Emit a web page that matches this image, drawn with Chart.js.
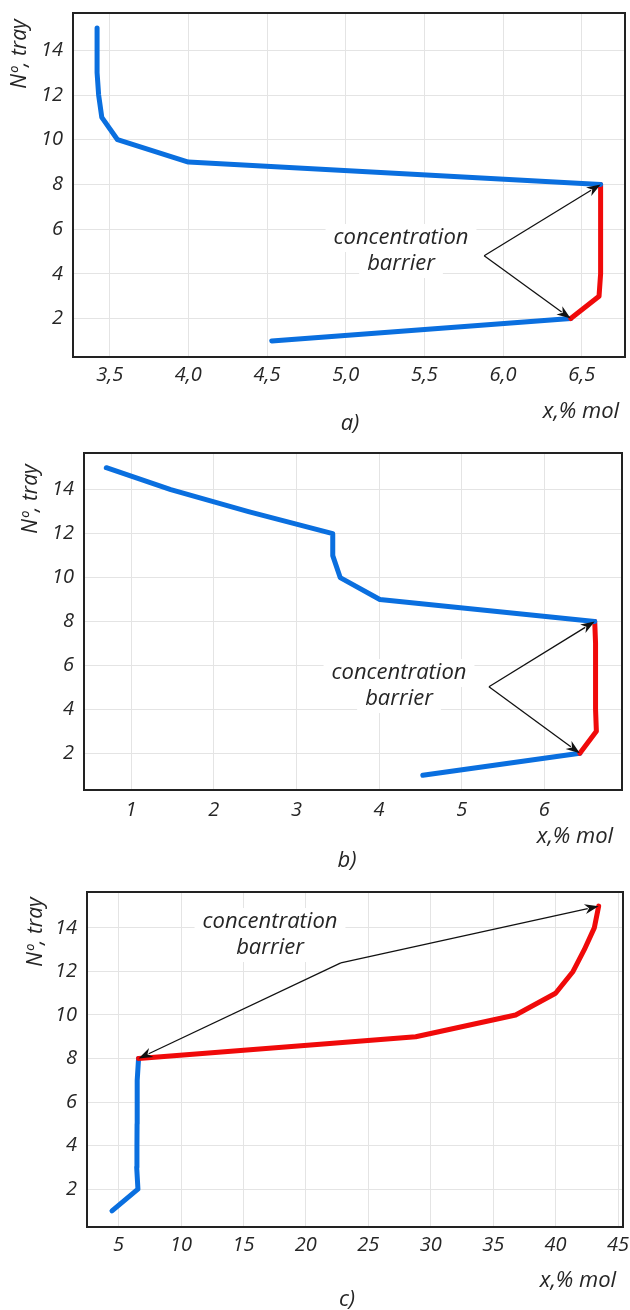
<!DOCTYPE html>
<html>
<head>
<meta charset="utf-8">
<script src="https://cdn.jsdelivr.net/npm/chart.js@4"></script>
<style>
  body { margin: 0; background: #fff; width: 630px; height: 1310px; overflow: hidden; }
  canvas { display: block; }
</style>
</head>
<body>
<canvas id="chart-a" width="630" height="440"></canvas>
<canvas id="chart-b" width="630" height="430"></canvas>
<canvas id="chart-c" width="630" height="440"></canvas>
<script>
// trays 1..15 and liquid concentration x, % mol for each panel
const trays = [1, 2, 3, 4, 5, 6, 7, 8, 9, 10, 11, 12, 13, 14, 15];
const xA = [4.53, 6.43, 6.61, 6.62, 6.62, 6.62, 6.62, 6.62, 4.0, 3.55, 3.45, 3.43, 3.42, 3.42, 3.42];
const xB = [4.53, 6.43, 6.63, 6.62, 6.62, 6.62, 6.62, 6.61, 4.01, 3.53, 3.44, 3.44, 2.42, 1.48, 0.70];
const xC = [4.47, 6.55, 6.45, 6.47, 6.48, 6.48, 6.5, 6.6, 28.8, 36.8, 40.0, 41.4, 42.3, 43.1, 43.45];

// trays between which the profile is the concentration barrier (red)
const barrierA = [2, 8];
const barrierB = [2, 8];
const barrierC = [8, 15];

// tick labels
const ticksXA = [3.5, 4.0, 4.5, 5.0, 5.5, 6.0, 6.5];
const ticksXB = [1, 2, 3, 4, 5, 6];
const ticksXC = [5, 10, 15, 20, 25, 30, 35, 40, 45];
const ticksY = [2, 4, 6, 8, 10, 12, 14];

// "concentration barrier" arrows: start point and arrow tips (data coords)
const arrowFromA = [5.88, 4.81];
const arrowToA = [[6.62, 8], [6.43, 2]];
const arrowFromB = [5.33, 5.03];
const arrowToB = [[6.61, 8], [6.43, 2]];
const arrowFromC = [22.8, 12.39];
const arrowToC = [[43.45, 15], [6.6, 8]];

const FONT = "'Open Sans', 'DejaVu Sans', sans-serif";
const INK = "#262626";
const BLUE = "#0a6fdf";
const RED = "#f00a0a";

function drawArrow(ctx, x0, y0, x1, y1) {
  const a = Math.atan2(y1 - y0, x1 - x0);
  const len = 14, hw = 5;
  ctx.beginPath();
  ctx.moveTo(x0, y0);
  ctx.lineTo(x1 - Math.cos(a) * len * 0.8, y1 - Math.sin(a) * len * 0.8);
  ctx.stroke();
  ctx.beginPath();
  ctx.moveTo(x1, y1);
  ctx.lineTo(x1 - Math.cos(a) * len - Math.sin(a) * hw, y1 - Math.sin(a) * len + Math.cos(a) * hw);
  ctx.lineTo(x1 - Math.cos(a) * len * 0.7, y1 - Math.sin(a) * len * 0.7);
  ctx.lineTo(x1 - Math.cos(a) * len + Math.sin(a) * hw, y1 - Math.sin(a) * len - Math.cos(a) * hw);
  ctx.closePath();
  ctx.fill();
}

function makeChart(id, cfg) {
  const area = cfg.area;
  const canvasH = document.getElementById(id).height;
  const xAxisH = 30;

  const decor = {
    id: "decor",
    afterDraw(chart) {
      const ctx = chart.ctx;
      const sx = chart.scales.x, sy = chart.scales.y;
      const ca = chart.chartArea;
      ctx.save();

      // annotation text with white backing
      ctx.font = `italic 400 22px ${FONT}`;
      ctx.textAlign = "center";
      ctx.textBaseline = "middle";
      cfg.note.lines.forEach((t, i) => {
        const w = ctx.measureText(t).width;
        const y = cfg.note.y + i * 26;
        ctx.fillStyle = "#fff";
        ctx.fillRect(cfg.note.x - w / 2 - 8, y - 14, w + 16, 28);
      });
      ctx.fillStyle = INK;
      cfg.note.lines.forEach((t, i) => ctx.fillText(t, cfg.note.x, cfg.note.y + i * 26));

      // arrows
      ctx.strokeStyle = "#111";
      ctx.fillStyle = "#111";
      ctx.lineWidth = 1.3;
      const x0 = sx.getPixelForValue(cfg.arrowFrom[0]);
      const y0 = sy.getPixelForValue(cfg.arrowFrom[1]);
      cfg.arrowTo.forEach(([vx, vy]) => {
        drawArrow(ctx, x0, y0, sx.getPixelForValue(vx), sy.getPixelForValue(vy));
      });

      // plot frame
      ctx.strokeStyle = "#222";
      ctx.lineWidth = 2;
      ctx.strokeRect(ca.left, ca.top, ca.right - ca.left, ca.bottom - ca.top);

      // axis titles and panel letter
      ctx.fillStyle = INK;
      ctx.font = `italic 400 22px ${FONT}`;
      ctx.textAlign = "center";
      ctx.fillText("x,% mol", cfg.xTitle[0], cfg.xTitle[1]);
      ctx.fillText(cfg.letter, cfg.letterPos[0], cfg.letterPos[1]);
      ctx.translate(cfg.yTitle[0], cfg.yTitle[1]);
      ctx.rotate(-Math.PI / 2);
      ctx.font = `italic 400 21px ${FONT}`;
      ctx.fillText("Nº, tray", 0, 0);
      ctx.restore();
    },
  };

  const tickFont = { family: FONT, size: 20, style: "italic", weight: 400 };

  return new Chart(document.getElementById(id), {
    type: "scatter",
    data: {
      datasets: [
        {
          data: trays.map((t, i) => ({ x: cfg.xs[i], y: t })),
          showLine: true,
          borderWidth: 5,
          borderColor: BLUE,
          borderCapStyle: "round",
          borderJoinStyle: "round",
          pointRadius: 0,
          segment: {
            borderColor: (c) =>
              c.p0.parsed.y >= cfg.barrier[0] && c.p1.parsed.y <= cfg.barrier[1] ? RED : BLUE,
          },
        },
      ],
    },
    options: {
      responsive: false,
      animation: false,
      layout: {
        padding: {
          left: 0,
          top: area.top,
          right: 630 - area.right,
          bottom: canvasH - area.bottom - xAxisH,
        },
      },
      plugins: { legend: { display: false }, tooltip: { enabled: false } },
      scales: {
        x: {
          type: "linear",
          min: cfg.xRange[0],
          max: cfg.xRange[1],
          afterBuildTicks: (s) => { s.ticks = cfg.xTicks.map((v) => ({ value: v })); },
          afterFit: (s) => { s.height = xAxisH; s.paddingLeft = 0; s.paddingRight = 0; },
          grid: { color: "#e4e4e4", lineWidth: 1, drawTicks: false },
          border: { display: false },
          ticks: {
            font: tickFont,
            color: INK,
            padding: cfg.xPad,
            maxRotation: 0,
            callback: cfg.xFmt,
          },
        },
        y: {
          type: "linear",
          min: cfg.yRange[0],
          max: cfg.yRange[1],
          afterBuildTicks: (s) => { s.ticks = ticksY.map((v) => ({ value: v })); },
          afterFit: (s) => { s.width = area.left; s.paddingTop = 0; s.paddingBottom = 0; },
          grid: { color: "#e4e4e4", lineWidth: 1, drawTicks: false },
          border: { display: false },
          ticks: { font: tickFont, color: INK, padding: 10 },
        },
      },
    },
    plugins: [decor],
  });
}

makeChart("chart-a", {
  xs: xA, barrier: barrierA,
  xTicks: ticksXA, xRange: [3.267, 6.775], yRange: [0.28, 15.67],
  xFmt: (v) => v.toFixed(1).replace(".", ","),
  area: { left: 73, top: 13, right: 625, bottom: 357 }, xPad: 6,
  arrowFrom: arrowFromA, arrowTo: arrowToA,
  note: { lines: ["concentration", "barrier"], x: 401, y: 238 },
  xTitle: [581, 412], letter: "a)", letterPos: [350, 424], yTitle: [20, 54],
});

makeChart("chart-b", {
  xs: xB, barrier: barrierB,
  xTicks: ticksXB, xRange: [0.43, 6.94], yRange: [0.33, 15.67],
  xFmt: (v) => String(v),
  area: { left: 84, top: 13, right: 622, bottom: 350 }, xPad: 8,
  arrowFrom: arrowFromB, arrowTo: arrowToB,
  note: { lines: ["concentration", "barrier"], x: 399, y: 233 },
  xTitle: [575, 397], letter: "b)", letterPos: [347, 421], yTitle: [31, 59],
});

makeChart("chart-c", {
  xs: xC, barrier: barrierC,
  xTicks: ticksXC, xRange: [2.47, 45.4], yRange: [0.26, 15.65],
  xFmt: (v) => String(v),
  area: { left: 87, top: 22, right: 623, bottom: 357 }, xPad: 6,
  arrowFrom: arrowFromC, arrowTo: arrowToC,
  note: { lines: ["concentration", "barrier"], x: 270, y: 52 },
  xTitle: [578, 411], letter: "c)", letterPos: [347, 430], yTitle: [36, 62],
});
</script>
</body>
</html>
